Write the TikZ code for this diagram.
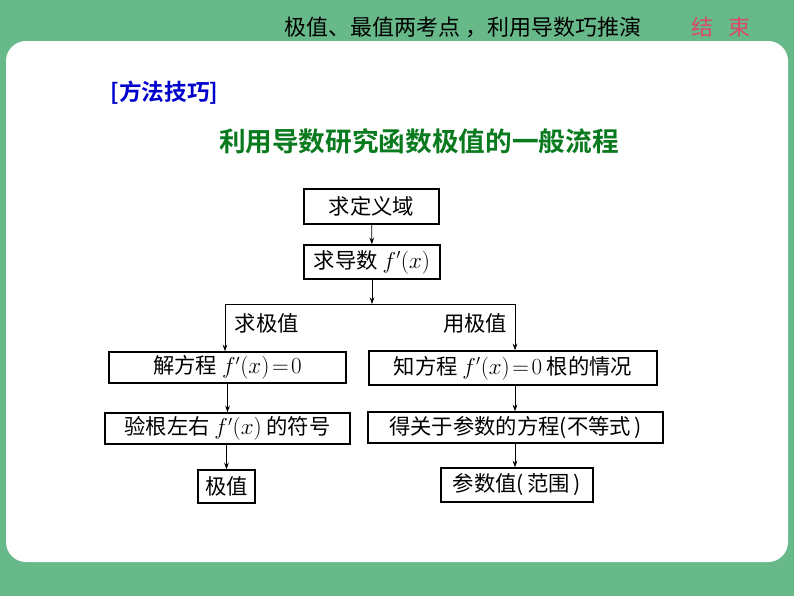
\documentclass[tikz,border=0pt]{standalone}
\usepackage{fontspec}
\usetikzlibrary{arrows.meta}
\newfontfamily\cjk{Noto Sans CJK SC}[BoldFont={Noto Sans CJK SC Bold}]
\definecolor{slidegreen}{HTML}{67B98A}
\definecolor{titlegreen}{HTML}{0A7A1E}
\definecolor{tipblue}{HTML}{0000CC}
\definecolor{endred}{HTML}{D9496B}

\begin{document}
\begin{tikzpicture}[x=0.75pt,y=-0.75pt,
		boxsize/.style 2 args={minimum width=#1*0.75pt,minimum height=#2*0.75pt},
		flowbox/.style={draw=black,line width=1pt,inner sep=0pt,font=\cjk\fontsize{16}{18}\selectfont},
		flowarrow/.style={-{Stealth[length=5pt,width=3.5pt]},line width=0.6pt},
		branchlabel/.style={font=\cjk\fontsize{16}{18}\selectfont}]
		%%%%% START %%%%%
		\useasboundingbox (0,0) rectangle (794,596);
		\fill[slidegreen] (0,0) rectangle (794,596);
		\fill[white,rounded corners=15pt] (6,41) rectangle (788,562);
		
		\node[font=\cjk\fontsize{16.5}{18}\selectfont] (header) at (463,27) {极值、最值两考点 ，利用导数巧推演};
		\node[font=\cjk\fontsize{16.5}{18}\selectfont,text=endred] (finish) at (721,27) {结\hspace{0.7em}束};
		
		\node[font=\cjk\bfseries\fontsize{17}{20}\selectfont,text=tipblue,anchor=west] (tips) at (106,93) {[方法技巧]};
		\node[font=\cjk\bfseries\fontsize{20}{24}\selectfont,text=titlegreen] (title) at (419,141.5) {利用导数研究函数极值的一般流程};
		
		\node[flowbox,boxsize={135}{35}] (domain) at (371.5,206.5) {求定义域};
		\node[flowbox,boxsize={136}{34}] (deriv) at (372,262) {求导数 $f'(x)$};
		
		\coordinate (fork) at (372,304);
		\coordinate (forkL) at (225,304);
		\coordinate (forkR) at (515,304);
		\node[branchlabel,anchor=west] (seek) at (230,323) {求极值};
		\node[branchlabel,anchor=east] (use) at (512,323) {用极值};
		
		\node[flowbox,boxsize={237}{31}] (solve) at (227.5,367.5) {解方程 $f'(x)\!=\!0$};
		\node[flowbox,boxsize={245}{31}] (sign) at (227.5,428.5) {验根左右 $f'(x)$ 的符号};
		\node[flowbox,boxsize={57}{33}] (extr) at (226.5,486.5) {极值};
		
		\node[flowbox,boxsize={288}{34}] (roots) at (513,368) {知方程 $f'(x)\!=\!0$ 根的情况};
		\node[flowbox,boxsize={295}{31}] (param) at (515.5,427.5) {得关于参数的方程(不等式\,)};
		\node[flowbox,boxsize={152}{34}] (range) at (517,485) {参数值(\,范围\,)};
		
		\draw[flowarrow] (domain) -- (deriv);
		\draw[flowarrow] (deriv) -- (fork);
		\draw[line width=0.6pt] (forkL) -- (forkR);
		\draw[flowarrow] (forkL) -- (forkL |- solve.north);
		\draw[flowarrow] (forkR) -- (forkR |- roots.north);
		\draw[flowarrow] (solve) -- (sign);
		\draw[flowarrow] (sign.south -| extr) -- (extr.north);
		\draw[flowarrow] (roots.south -| forkR) -- (param.north -| forkR);
		\draw[flowarrow] (param.south -| forkR) -- (range.north -| forkR);
		%%%%% END %%%%%
\end{tikzpicture}
\end{document}
